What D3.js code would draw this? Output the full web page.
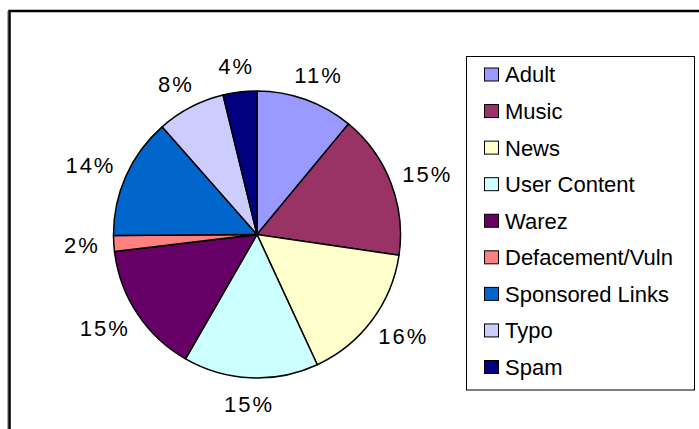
<!DOCTYPE html>
<html>
<head>
<meta charset="utf-8">
<script src="https://cdn.jsdelivr.net/npm/d3@7"></script>
<style>
  html, body { margin: 0; padding: 0; background: #fff; }
  svg { display: block; }
  text { font-family: "Liberation Sans", Arial, sans-serif; fill: #000; }
</style>
</head>
<body>
<svg id="chart" width="699" height="429"></svg>
<script>
// ---- data ----
const categories = ["Adult", "Music", "News", "User Content", "Warez",
  "Defacement/Vuln", "Sponsored Links", "Typo", "Spam"];
const shares = [11.0, 16.3, 15.8, 15.2, 14.8, 1.8, 13.6, 7.7, 3.8];
const pctLabels = ["11%", "15%", "16%", "15%", "15%", "2%", "14%", "8%", "4%"];
const colors = ["#9999FF", "#993366", "#FFFFCC", "#CCFFFF", "#660066",
  "#FF8080", "#0066CC", "#CCCCFF", "#000080"];

// ---- layout ----
const W = 699, H = 429;
const cx = 257, cy = 234.5, R = 143.5;
const svg = d3.select("#chart");

// outer frame (right/bottom cut off by image)
svg.append("line").attr("x1", 7.5).attr("x2", 7.5).attr("y1", 11).attr("y2", H)
  .attr("stroke", "#aaa").attr("stroke-width", 1);
svg.append("rect").attr("x", 9.5).attr("y", 11).attr("width", W + 10).attr("height", H + 10)
  .attr("fill", "none").attr("stroke", "#000").attr("stroke-width", 2.5);

const pie = d3.pie().sort(null).value(d => d);
const arcs = pie(shares);
const arc = d3.arc().innerRadius(0).outerRadius(R);

const g = svg.append("g").attr("transform", `translate(${cx},${cy})`);
g.selectAll("path.slice").data(arcs).enter().append("path")
  .attr("class", "slice")
  .attr("d", arc)
  .attr("fill", (d, i) => colors[i])
  .attr("stroke", "#000")
  .attr("stroke-width", 1.5)
  .attr("stroke-linejoin", "round");

// percentage labels outside
const fs = 22, gap = 14, halfH = 12;
g.selectAll("text.pct").data(arcs).enter().append("text")
  .attr("class", "pct")
  .attr("font-size", fs)
  .attr("letter-spacing", 2)
  .attr("text-anchor", "middle")
  .attr("dy", "0.36em")
  .text((d, i) => pctLabels[i])
  .each(function (d) {
    const a = (d.startAngle + d.endAngle) / 2;
    const ux = Math.sin(a), uy = -Math.cos(a);
    const w = this.getComputedTextLength();
    const x = ux * (R + gap) + ux * w / 2;
    const y = uy * (R + gap) + uy * halfH;
    d3.select(this).attr("x", x).attr("y", y);
  });

// legend
const lx = 466.5, ly = 56.5, lw = 228, lh = 333.5;
svg.append("rect").attr("x", lx).attr("y", ly).attr("width", lw).attr("height", lh)
  .attr("fill", "#fff").attr("stroke", "#000").attr("stroke-width", 1);

const rowY = d3.scalePoint().domain(categories).range([74.5, 367]);
const leg = svg.append("g");
const items = leg.selectAll("g.item").data(categories).enter().append("g")
  .attr("class", "item")
  .attr("transform", d => `translate(0,${rowY(d)})`);
items.append("rect")
  .attr("x", 484.5).attr("y", -6.5).attr("width", 14).attr("height", 13)
  .attr("fill", (d, i) => colors[i]).attr("stroke", "#000").attr("stroke-width", 1);
items.append("text")
  .attr("x", 505).attr("y", 0).attr("dy", "0.36em")
  .attr("font-size", 22)
  .text(d => d);
</script>
</body>
</html>
